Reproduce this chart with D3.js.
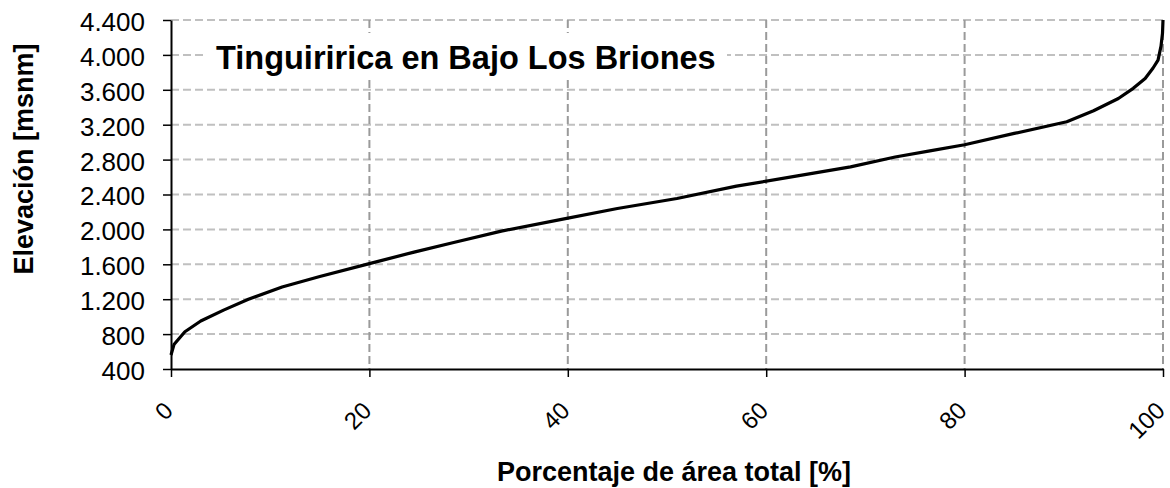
<!DOCTYPE html>
<html>
<head>
<meta charset="utf-8">
<script src="https://cdn.jsdelivr.net/npm/d3@7"></script>
<style>
  body { margin: 0; background: #fff; }
  svg { display: block; font-family: "Liberation Sans", Arial, sans-serif; }
</style>
</head>
<body>
<svg id="chart" width="1170" height="488"></svg>
<script>
// curva hipsométrica
const pctArea = [0, 0.3, 1.4, 3, 5.3, 7.8, 11.2, 15, 20, 24.5, 28.5, 33.3, 39.5, 45, 51, 57, 63, 68.5, 73, 76.5, 80, 85, 90.3, 93, 95.5, 97, 98.2, 99, 99.5, 99.8, 99.95, 100];
const elevacion = [560, 680, 827, 950, 1075, 1199, 1340, 1460, 1608, 1740, 1850, 1980, 2117, 2240, 2354, 2496, 2610, 2717, 2830, 2900, 2970, 3100, 3234, 3360, 3500, 3617, 3730, 3850, 3941, 4100, 4250, 4400];

const xTicks = [0, 20, 40, 60, 80, 100];
const yTicks = [400, 800, 1200, 1600, 2000, 2400, 2800, 3200, 3600, 4000, 4400];

const titulo = "Tinguiririca en Bajo Los Briones";
const xTitulo = "Porcentaje de área total [%]";
const yTitulo = "Elevación [msnm]";

const svg = d3.select("#chart");
const mLeft = 171, mRight = 1163, mTop = 20, mBottom = 369;

const x = d3.scaleLinear().domain([0, 100]).range([mLeft, mRight]);
const y = d3.scaleLinear().domain([400, 4400]).range([mBottom, mTop]);

const es = d3.formatLocale({decimal: ",", thousands: ".", grouping: [3], currency: ["$", ""]});
const fmt = es.format(",d");

// grilla
svg.append("g")
  .selectAll("line")
  .data(yTicks.slice(1))
  .enter().append("line")
    .attr("x1", mLeft).attr("x2", mRight)
    .attr("y1", d => y(d)).attr("y2", d => y(d))
    .attr("stroke", "#c0c0c0")
    .attr("stroke-width", 2)
    .attr("stroke-dasharray", "8,4");

svg.append("g")
  .selectAll("line")
  .data(xTicks.slice(1))
  .enter().append("line")
    .attr("x1", d => x(d)).attr("x2", d => x(d))
    .attr("y1", mTop).attr("y2", mBottom)
    .attr("stroke", "#9a9a9a")
    .attr("stroke-width", 2)
    .attr("stroke-dasharray", "8,4");

// caja del titulo
svg.append("rect")
  .attr("x", 203).attr("y", 33)
  .attr("width", 524).attr("height", 47)
  .attr("fill", "#fff");

svg.append("text")
  .attr("x", 216).attr("y", 69)
  .attr("font-size", 32.5)
  .attr("font-weight", "bold")
  .attr("fill", "#000")
  .text(titulo);

// curva
const line = d3.line()
  .x((d, i) => x(pctArea[i]))
  .y(d => y(d));

svg.append("path")
  .datum(elevacion)
  .attr("d", line)
  .attr("fill", "none")
  .attr("stroke", "#000")
  .attr("stroke-width", 3.2)
  .attr("stroke-linejoin", "round");

// ejes
const yAxis = svg.append("g")
  .attr("transform", `translate(${mLeft},0)`)
  .call(d3.axisLeft(y).tickValues(yTicks).tickFormat(fmt).tickSize(8).tickPadding(18).tickSizeOuter(0));

yAxis.select(".domain").attr("stroke", "#000").attr("stroke-width", 2);
yAxis.selectAll(".tick line").attr("stroke", "#000").attr("stroke-width", 1.5);
yAxis.selectAll("text")
  .attr("font-size", 26)
  .attr("font-family", "'Liberation Sans', Arial, sans-serif")
  .attr("fill", "#000")
  .attr("dy", "0.4em");

const xAxis = svg.append("g")
  .attr("transform", `translate(0,${mBottom})`)
  .call(d3.axisBottom(x).tickValues(xTicks).tickSize(8).tickSizeOuter(0));

xAxis.select(".domain").attr("stroke", "#000").attr("stroke-width", 2);
xAxis.selectAll(".tick line").attr("stroke", "#000").attr("stroke-width", 1.5);
xAxis.selectAll("text")
  .attr("font-size", 24)
  .attr("font-family", "'Liberation Sans', Arial, sans-serif")
  .attr("fill", "#000")
  .attr("text-anchor", "end")
  .attr("x", 0).attr("y", 0)
  .attr("dy", 0)
  .attr("transform", "translate(3,43) rotate(-45)");

// titulos de ejes
svg.append("text")
  .attr("x", (mLeft + mRight) / 2 + 7)
  .attr("y", 481)
  .attr("text-anchor", "middle")
  .attr("font-size", 27)
  .attr("font-weight", "bold")
  .text(xTitulo);

svg.append("text")
  .attr("transform", "translate(33,159) rotate(-90)")
  .attr("text-anchor", "middle")
  .attr("font-size", 27)
  .attr("font-weight", "bold")
  .text(yTitulo);
</script>
</body>
</html>
